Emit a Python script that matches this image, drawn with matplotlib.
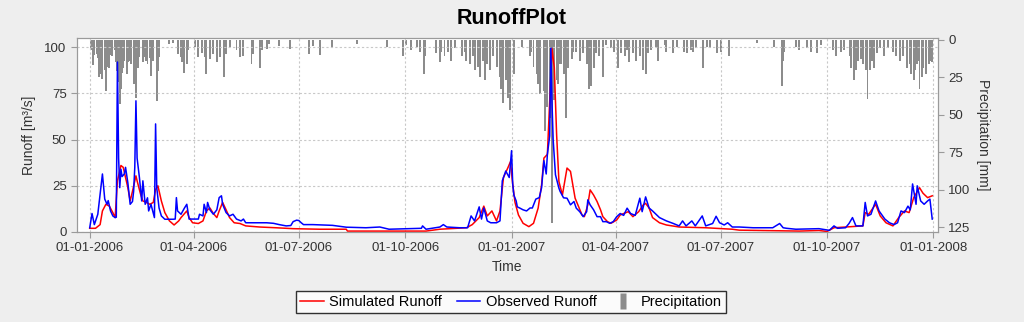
import numpy as np
import matplotlib
matplotlib.use("Agg")
import matplotlib.pyplot as plt
import matplotlib.dates as mdates
from matplotlib.lines import Line2D
from matplotlib.path import Path

plt.rcParams['font.family'] = ['Liberation Sans', 'DejaVu Sans']

# day offsets from 01-01-2006
sim_days = [0, 5, 9, 11, 14, 17, 20, 22, 24, 27, 29, 31, 33, 35, 37, 40, 41, 44, 46, 49,
            52, 55, 57, 59, 62, 65, 69, 73, 77, 79, 84, 86, 89, 94, 98, 101, 104, 107, 110, 112,
            115, 118, 121, 125, 130, 135, 147, 161, 176, 199, 222, 223, 291, 303, 326, 331, 337, 341, 344, 348,
            352, 355, 358, 362, 364, 366, 368, 371, 375, 380, 384, 388, 391, 393, 396, 398, 400, 402, 404, 406,
            409, 411, 413, 416, 418, 420, 423, 426, 428, 431, 433, 436, 439, 442, 444, 448, 451, 456, 459, 462,
            466, 470, 475, 479, 481, 484, 487, 493, 499, 510, 533, 556, 562, 614, 631, 638, 644, 669, 671, 674,
            680, 684, 689, 695, 700, 705, 709, 713, 718, 721, 725, 729]
sim_vals = [2.0, 2.0, 4.0, 11.4, 15.0, 14.0, 10.5, 7.8, 27.7, 36.0, 35.0, 29.5, 24.0, 16.8, 22.0, 30.4, 27.7, 20.5, 16.8, 16.0,
            15.0, 16.0, 23.0, 25.0, 16.8, 10.5, 6.0, 3.8, 6.0, 7.8, 11.4, 7.8, 5.0, 4.6, 6.0, 11.4, 13.0, 10.0, 7.8, 11.4,
            16.0, 12.0, 7.8, 5.0, 4.6, 3.3, 2.7, 2.3, 1.8, 1.5, 1.5, 0.5, 0.5, 1.5, 2.3, 4.0, 7.8, 14.0, 8.7, 11.4,
            6.0, 11.4, 29.5, 35.0, 38.0, 26.0, 16.0, 9.2, 4.7, 2.9, 4.7, 12.9, 25.5, 40.0, 42.0, 70.8, 99.3, 89.0, 52.7, 27.3,
            20.0, 27.3, 34.6, 32.8, 25.5, 18.3, 13.8, 9.2, 8.3, 14.7, 22.8, 20.0, 16.5, 12.0, 8.3, 5.6, 4.7, 6.5, 9.2, 10.0,
            11.0, 8.3, 11.0, 14.7, 15.5, 13.0, 7.8, 5.0, 3.8, 2.7, 2.3, 1.5, 1.0, 0.5, 0.8, 0.3, 2.3, 3.3, 10.5, 9.6,
            15.0, 8.7, 5.0, 3.3, 7.8, 11.4, 10.5, 18.6, 24.0, 21.0, 18.6, 19.6]

obs_days = [0, 2, 4, 7, 9, 11, 13, 15, 16, 18, 20, 22, 23, 24, 25, 26, 27, 28, 30, 31,
            33, 35, 37, 38, 39, 40, 41, 43, 45, 46, 48, 50, 51, 53, 56, 57, 58, 60, 62, 65,
            69, 72, 74, 75, 76, 79, 82, 84, 86, 89, 94, 95, 98, 99, 101, 102, 104, 107, 110, 112,
            114, 115, 118, 121, 124, 127, 131, 133, 135, 141, 147, 153, 159, 164, 170, 174, 176, 179, 181, 183,
            185, 193, 210, 222, 239, 251, 259, 274, 287, 288, 291, 303, 306, 309, 320, 327, 330, 333, 337, 339,
            341, 344, 347, 352, 355, 357, 360, 363, 365, 366, 367, 369, 370, 372, 375, 378, 381, 383, 386, 389,
            391, 393, 395, 396, 398, 399, 400, 401, 403, 406, 407, 410, 413, 416, 419, 421, 424, 427, 430, 431,
            433, 436, 439, 442, 444, 447, 450, 453, 456, 459, 462, 465, 468, 472, 476, 478, 481, 484, 487, 493,
            499, 505, 510, 513, 516, 521, 524, 530, 533, 539, 542, 545, 549, 552, 556, 562, 574, 591, 597, 600,
            603, 611, 631, 640, 644, 647, 654, 657, 660, 663, 669, 671, 673, 676, 680, 683, 688, 692, 696, 699,
            702, 705, 708, 710, 712, 715, 716, 719, 722, 725, 727, 729]
obs_vals = [2.3, 10.0, 4.0, 9.6, 20.5, 31.4, 17.8, 15.0, 17.0, 11.4, 8.7, 7.8, 8.0, 92.0, 40.0, 24.0, 34.0, 30.0, 31.5, 35.0,
            26.6, 15.0, 16.5, 22.0, 35.0, 71.0, 40.0, 29.5, 16.8, 27.7, 15.0, 18.5, 11.4, 15.0, 7.8, 58.5, 24.0, 13.0, 8.7, 6.9,
            6.9, 6.9, 7.0, 18.6, 11.4, 9.6, 13.0, 15.0, 7.0, 7.0, 7.0, 9.6, 8.7, 15.0, 10.5, 16.0, 12.0, 9.6, 12.0, 18.6,
            19.6, 15.0, 10.5, 8.7, 9.6, 7.0, 6.0, 7.0, 5.0, 5.0, 5.0, 5.0, 4.7, 4.0, 3.3, 3.5, 5.6, 6.4, 6.2, 5.0,
            4.0, 4.0, 3.6, 2.6, 2.3, 2.7, 1.5, 1.8, 2.0, 3.3, 1.5, 2.7, 4.0, 2.7, 2.3, 2.3, 8.7, 6.0, 13.6, 7.0,
            13.0, 6.0, 5.0, 5.0, 6.0, 27.7, 33.0, 29.5, 44.0, 26.0, 20.0, 16.8, 13.6, 13.0, 12.0, 11.4, 13.0, 13.0, 17.8, 18.6,
            24.0, 38.6, 31.4, 42.0, 52.0, 99.5, 70.0, 50.0, 31.0, 23.7, 22.0, 18.5, 18.3, 14.7, 16.5, 12.9, 11.0, 8.3, 11.0, 17.4,
            14.7, 12.0, 8.3, 8.3, 5.6, 5.6, 4.7, 5.6, 8.3, 10.0, 9.0, 12.9, 10.0, 9.0, 18.3, 11.0, 19.0, 13.0, 11.4, 7.8,
            6.0, 4.6, 3.3, 6.0, 3.3, 6.0, 3.3, 8.7, 3.3, 4.6, 8.5, 5.0, 3.8, 5.0, 2.7, 2.7, 2.3, 2.3, 4.6, 2.3,
            2.0, 1.5, 1.8, 0.9, 3.3, 2.0, 2.3, 4.6, 7.8, 3.3, 3.3, 16.0, 8.7, 9.6, 16.8, 11.4, 7.0, 5.0, 4.0, 5.0,
            11.4, 10.5, 14.0, 12.0, 26.0, 15.0, 25.0, 16.8, 15.0, 16.8, 17.8, 7.0]

rain_days = [1, 3, 4, 6, 7, 8, 10, 11, 13, 14, 15, 17, 18, 19, 22, 23, 24, 25, 26, 27,
             28, 29, 30, 32, 33, 35, 36, 38, 40, 42, 43, 46, 48, 49, 50, 52, 53, 55, 58, 59,
             60, 69, 72, 76, 79, 80, 82, 84, 85, 91, 94, 97, 100, 101, 104, 107, 110, 113, 116, 118,
             121, 127, 130, 133, 140, 141, 147, 149, 153, 155, 164, 173, 190, 193, 199, 210, 231, 257, 271, 274,
             278, 283, 286, 289, 290, 300, 303, 304, 307, 310, 313, 316, 322, 325, 326, 329, 332, 333, 336, 338,
             340, 342, 344, 346, 349, 352, 355, 356, 358, 360, 362, 364, 367, 374, 381, 382, 384, 387, 388, 390,
             393, 394, 396, 398, 400, 402, 404, 405, 407, 408, 410, 412, 414, 417, 418, 421, 424, 427, 430, 432,
             434, 436, 438, 441, 444, 447, 451, 454, 457, 460, 463, 465, 467, 470, 473, 476, 479, 481, 483, 486,
             490, 492, 498, 499, 505, 508, 514, 517, 520, 522, 525, 531, 534, 537, 543, 546, 553, 577, 592, 599,
             600, 601, 611, 614, 621, 624, 629, 633, 643, 646, 650, 653, 658, 659, 661, 663, 665, 667, 669, 672,
             673, 675, 677, 679, 681, 684, 687, 691, 695, 698, 701, 704, 707, 710, 711, 713, 714, 716, 717, 718,
             720, 721, 724, 726, 727, 729]
rain_mm = [7.0, 17.0, 10.0, 9.5, 12.0, 25.0, 23.0, 26.0, 20.0, 34.0, 18.0, 18.5, 10.0, 11.0, 7.0, 15.0, 21.0, 28.0, 43.0, 33.0,
           22.0, 18.5, 14.0, 23.0, 15.0, 14.0, 16.0, 29.5, 38.5, 18.5, 11.5, 15.0, 11.5, 14.0, 16.0, 12.0, 24.0, 14.0, 40.7, 21.0,
           11.5, 3.0, 2.0, 9.5, 11.5, 15.0, 22.0, 16.0, 7.0, 5.0, 11.5, 8.5, 11.5, 23.0, 12.5, 9.5, 15.0, 11.5, 25.0, 9.5,
           5.0, 7.0, 11.5, 10.5, 16.0, 9.5, 18.5, 7.0, 6.0, 3.0, 4.0, 6.0, 9.5, 4.0, 10.0, 5.0, 3.0, 5.0, 10.7, 3.3,
           6.7, 4.4, 7.8, 23.0, 11.0, 9.0, 15.0, 7.8, 11.0, 8.0, 14.0, 5.5, 10.7, 7.8, 14.0, 16.0, 11.0, 20.0, 18.0, 25.0,
           14.0, 27.0, 16.0, 20.0, 11.0, 18.0, 25.0, 33.0, 42.0, 27.0, 38.5, 47.0, 23.0, 4.4, 11.0, 7.8, 18.0, 23.0, 29.5, 36.0,
           34.0, 60.7, 45.0, 52.0, 122.0, 40.0, 27.0, 29.5, 16.0, 16.0, 23.0, 52.0, 18.5, 13.0, 7.8, 7.8, 14.0, 9.0, 16.0, 33.0,
           31.0, 18.5, 9.0, 11.0, 25.0, 3.3, 5.5, 7.8, 18.5, 9.0, 11.0, 6.7, 15.0, 9.0, 14.0, 11.0, 20.0, 23.0, 9.0, 6.7,
           4.4, 14.0, 3.3, 7.8, 9.0, 4.4, 7.8, 9.0, 6.7, 7.8, 5.5, 18.5, 4.4, 5.5, 9.0, 7.8, 11.0, 2.2, 4.4, 30.7,
           14.0, 7.8, 4.4, 6.7, 5.5, 7.8, 9.0, 3.3, 6.7, 11.0, 7.8, 6.7, 11.0, 18.5, 27.0, 20.0, 14.0, 13.0, 16.0, 20.0,
           39.5, 20.0, 14.0, 18.5, 9.0, 5.5, 11.0, 5.5, 7.8, 10.7, 14.0, 11.0, 18.5, 16.0, 23.0, 27.0, 20.0, 16.0, 14.0, 33.0,
           25.0, 18.5, 23.0, 16.0, 14.0, 15.0]

start = np.datetime64('2006-01-01')


def to_dates(days):
    return start + np.array(days).astype('timedelta64[D]')


fig = plt.figure(figsize=(10.24, 3.22), dpi=100, facecolor='#eeeeee')
ax = fig.add_axes([77 / 1024, 1 - 232 / 322, 861 / 1024, 194 / 322])
ax2 = ax.twinx()

ax2.bar(to_dates(rain_days), rain_mm, width=1.7, color='#8c8c8c', linewidth=0)
ax.plot(to_dates(sim_days), sim_vals, color='#ff0000', lw=1.1)
ax.plot(to_dates(obs_days), obs_vals, color='#0000ff', lw=1.1)

# runoff lines above the rain bars, white plot background from the bar axes
ax.set_zorder(ax2.get_zorder() + 1)
ax.patch.set_visible(False)
ax2.patch.set_visible(True)
ax2.patch.set_facecolor('white')

ax.set_xlim(start - np.timedelta64(11, 'D'), start + np.timedelta64(734, 'D'))
ax.set_ylim(0, 105)
ax.set_yticks([0, 25, 50, 75, 100])
ax2.set_ylim(128.3, -1.3)
ax2.set_yticks([0, 25, 50, 75, 100, 125])

ax.xaxis.set_major_locator(mdates.MonthLocator(bymonth=[1, 4, 7, 10]))
ax.xaxis.set_major_formatter(mdates.DateFormatter('%d-%m-%Y'))

ax.grid(True, color='#c8c8c8', ls=(0, (2, 2)), lw=0.8)

for a in (ax, ax2):
    for s in a.spines.values():
        s.set_color('#9a9a9a')
    a.tick_params(colors='#9a9a9a', labelcolor='#333333', labelsize=9.5, length=4, width=0.8)

ax.set_ylabel('Runoff [m³/s]', fontsize=10, color='#333333', labelpad=6)
ax2.set_ylabel('Precipitation [mm]', fontsize=10, color='#333333', rotation=270, labelpad=14)
ax.set_xlabel('Time', fontsize=10, color='#333333', labelpad=4)

fig.text(0.5, 1 - 18 / 322, 'RunoffPlot', ha='center', va='center', fontsize=15.5, fontweight='bold')

# narrow upright box for the precipitation legend key
bar_marker = Path([(-0.35, -1), (0.35, -1), (0.35, 1), (-0.35, 1), (-0.35, -1)],
                  [Path.MOVETO, Path.LINETO, Path.LINETO, Path.LINETO, Path.CLOSEPOLY])
handles = [Line2D([], [], color='#ff0000', lw=1.1),
           Line2D([], [], color='#0000ff', lw=1.1),
           Line2D([], [], ls='none', marker=bar_marker, markersize=11,
                  markerfacecolor='#8c8c8c', markeredgecolor='none')]
leg = fig.legend(handles, ['Simulated Runoff', 'Observed Runoff', 'Precipitation'],
                 loc='center', bbox_to_anchor=(511 / 1024, 1 - 302 / 322), ncol=3,
                 fontsize=10.5, frameon=True, fancybox=False, handlelength=1.6,
                 handletextpad=0.4, columnspacing=1.0, borderpad=0.3)
leg.get_frame().set_edgecolor('#000000')
leg.get_frame().set_linewidth(1.0)

fig.savefig('out.png', dpi=100, facecolor=fig.get_facecolor())
